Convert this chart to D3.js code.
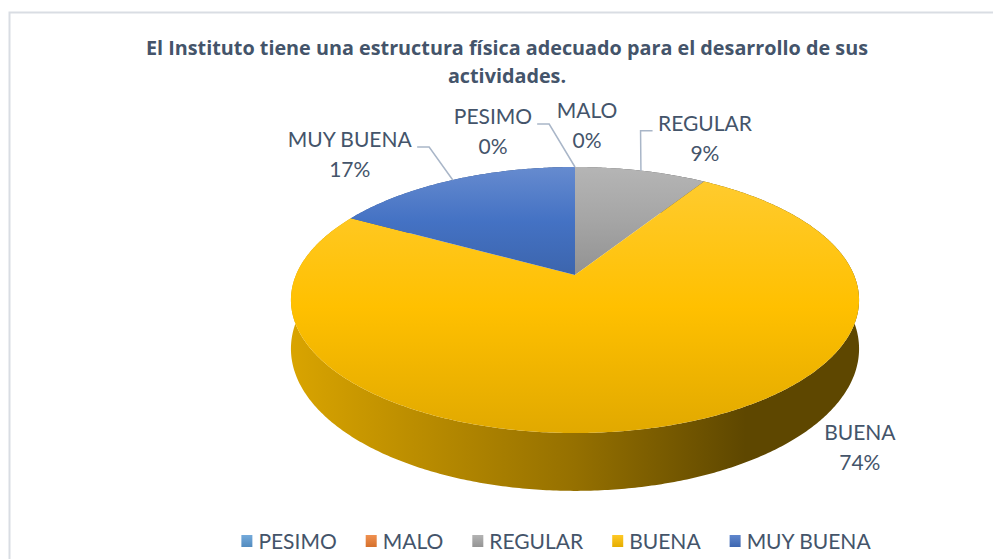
<!DOCTYPE html>
<html>
<head>
<meta charset="utf-8">
<script src="https://cdn.jsdelivr.net/npm/d3@7"></script>
<style>
  html, body { margin: 0; background: #fff; }
  svg { display: block; font-family: Lato, "Open Sans", sans-serif; }
</style>
</head>
<body>
<svg id="chart" width="993" height="559"></svg>
<script>
// datos de la encuesta
const titleLines = ["El Instituto tiene una estructura física adecuado para el desarrollo de sus", "actividades."];
const categories = ["PESIMO", "MALO", "REGULAR", "BUENA", "MUY BUENA"];
const values = [0, 0, 9, 74, 17];
const colors = ["#5b9bd5", "#ed7d31", "#a5a5a5", "#ffc000", "#4472c4"];

// etiquetas movidas a mano en el original: desplazamiento desde el punto del borde
const labelOffsets = [[-82, -43], [12, -49], [64, -40], [200, 13], [-103, -33]];
const withLeader = [true, false, true, false, true];

const TEXT = "#44546a";
const svg = d3.select("#chart");
const defs = svg.append("defs");

// borde del area del grafico (se sale por la derecha y abajo)
svg.append("rect")
  .attr("x", 9.5).attr("y", 12.5).attr("width", 1000).attr("height", 600)
  .attr("fill", "none").attr("stroke", "#d9dde3").attr("stroke-width", 2);

// ---------- titulo ----------
svg.append("g").selectAll("text")
  .data(titleLines)
  .join("text")
  .attr("x", 507).attr("y", (d, i) => 55 + i * 28)
  .attr("text-anchor", "middle")
  .attr("font-family", "'Open Sans', sans-serif")
  .attr("font-size", 19.8).attr("font-weight", 700)
  .attr("fill", TEXT)
  .text(d => d);

// ---------- pastel 3D ----------
const CX = 575, CY = 275, SX = 279, SY = 128.3, PERSP = 0.188, DEPTH = 47;

// angulo desde las 12 en sentido horario -> punto en pantalla con perspectiva
function proj(a, r = 1, drop = 0) {
  const x = r * Math.sin(a), z = -r * Math.cos(a);
  const w = 1 - PERSP * z;
  return [CX + SX * x / w, CY + (SY * z + DEPTH * drop) / w];
}
function arcPoints(a0, a1, drop) {
  const n = Math.max(2, Math.ceil((a1 - a0) / 0.01));
  return d3.range(n + 1).map(i => proj(a0 + (a1 - a0) * i / n, 1, drop));
}

const arcs = d3.pie().sort(null).value(d => d)(values);
const line = d3.line();
const total = d3.sum(values);
const pct = d3.format(".0%");

// gradientes
arcs.forEach((a, i) => {
  const c = colors[i];
  const gTop = defs.append("linearGradient").attr("id", "top" + i)
    .attr("x1", 0).attr("y1", 0).attr("x2", 0).attr("y2", 1);
  gTop.append("stop").attr("offset", "0%").attr("stop-color", d3.interpolateRgb(c, "#fff")(0.18));
  gTop.append("stop").attr("offset", "50%").attr("stop-color", c);
  gTop.append("stop").attr("offset", "100%").attr("stop-color", d3.color(c).darker(0.35));

  const gSide = defs.append("linearGradient").attr("id", "side" + i)
    .attr("gradientUnits", "userSpaceOnUse")
    .attr("x1", CX - SX * 1.02).attr("y1", 0).attr("x2", CX + SX * 1.02).attr("y2", 0);
  gSide.append("stop").attr("offset", "0%").attr("stop-color", d3.color(c).darker(0.45));
  gSide.append("stop").attr("offset", "50%").attr("stop-color", d3.color(c).darker(1.5));
  gSide.append("stop").attr("offset", "80%").attr("stop-color", d3.color(c).darker(2.8));
  gSide.append("stop").attr("offset", "100%").attr("stop-color", d3.color(c).darker(2.8));
});

const pie = svg.append("g");
const shown = arcs.map((a, i) => ({ a, i })).filter(d => d.a.value > 0);

// paredes laterales primero, la cara superior las tapa
pie.selectAll("path.side")
  .data(shown)
  .join("path")
  .attr("class", "side")
  .attr("fill", d => `url(#side${d.i})`)
  .attr("d", d => line(arcPoints(d.a.startAngle, d.a.endAngle, 0)
    .concat(arcPoints(d.a.startAngle, d.a.endAngle, 1).reverse())) + "Z");

pie.selectAll("path.top")
  .data(shown)
  .join("path")
  .attr("class", "top")
  .attr("fill", d => `url(#top${d.i})`)
  .attr("d", d => line([proj(0, 0)].concat(arcPoints(d.a.startAngle, d.a.endAngle, 0))) + "Z");

// ---------- etiquetas ----------
const labels = svg.append("g");
arcs.forEach((a, i) => {
  const mid = (a.startAngle + a.endAngle) / 2;
  const [ax, ay] = proj(mid, 1);
  const [dx, dy] = labelOffsets[i];
  const lx = ax + dx, ly = ay + dy;

  const t = labels.append("text")
    .attr("text-anchor", "middle")
    .attr("font-size", 21)
    .attr("fill", TEXT);
  t.append("tspan").attr("x", lx).attr("y", ly).text(categories[i]);
  t.append("tspan").attr("x", lx).attr("y", ly + 30).text(pct(a.value / total));

  if (withLeader[i]) {
    const half = t.node().getBBox().width / 2;
    const side = dx < 0 ? 1 : -1;
    const x0 = lx + side * (half + 5);
    const x1 = x0 + side * 12;
    labels.append("path")
      .attr("d", line([[x0, ly], [x1, ly], [ax, ay]]))
      .attr("fill", "none")
      .attr("stroke", "#a9b6c8")
      .attr("stroke-width", 1.5);
  }
});

// ---------- leyenda ----------
const legend = svg.append("g");
let lxPos = 0;
categories.forEach((c, i) => {
  const gL = defs.append("linearGradient").attr("id", "leg" + i)
    .attr("x1", 0).attr("y1", 0).attr("x2", 0).attr("y2", 1);
  gL.append("stop").attr("offset", "0%").attr("stop-color", d3.interpolateRgb(colors[i], "#fff")(0.15));
  gL.append("stop").attr("offset", "100%").attr("stop-color", d3.color(colors[i]).darker(0.3));

  const item = legend.append("g").attr("transform", `translate(${lxPos},0)`);
  item.append("rect").attr("x", 0).attr("y", 535).attr("width", 11).attr("height", 12)
    .attr("fill", `url(#leg${i})`);
  const txt = item.append("text").attr("x", 17).attr("y", 549)
    .attr("font-size", 21).attr("fill", TEXT).text(c);
  lxPos += 17 + txt.node().getComputedTextLength() + 29;
});
lxPos -= 29;
legend.attr("transform", `translate(${556 - lxPos / 2},0)`);
</script>
</body>
</html>
